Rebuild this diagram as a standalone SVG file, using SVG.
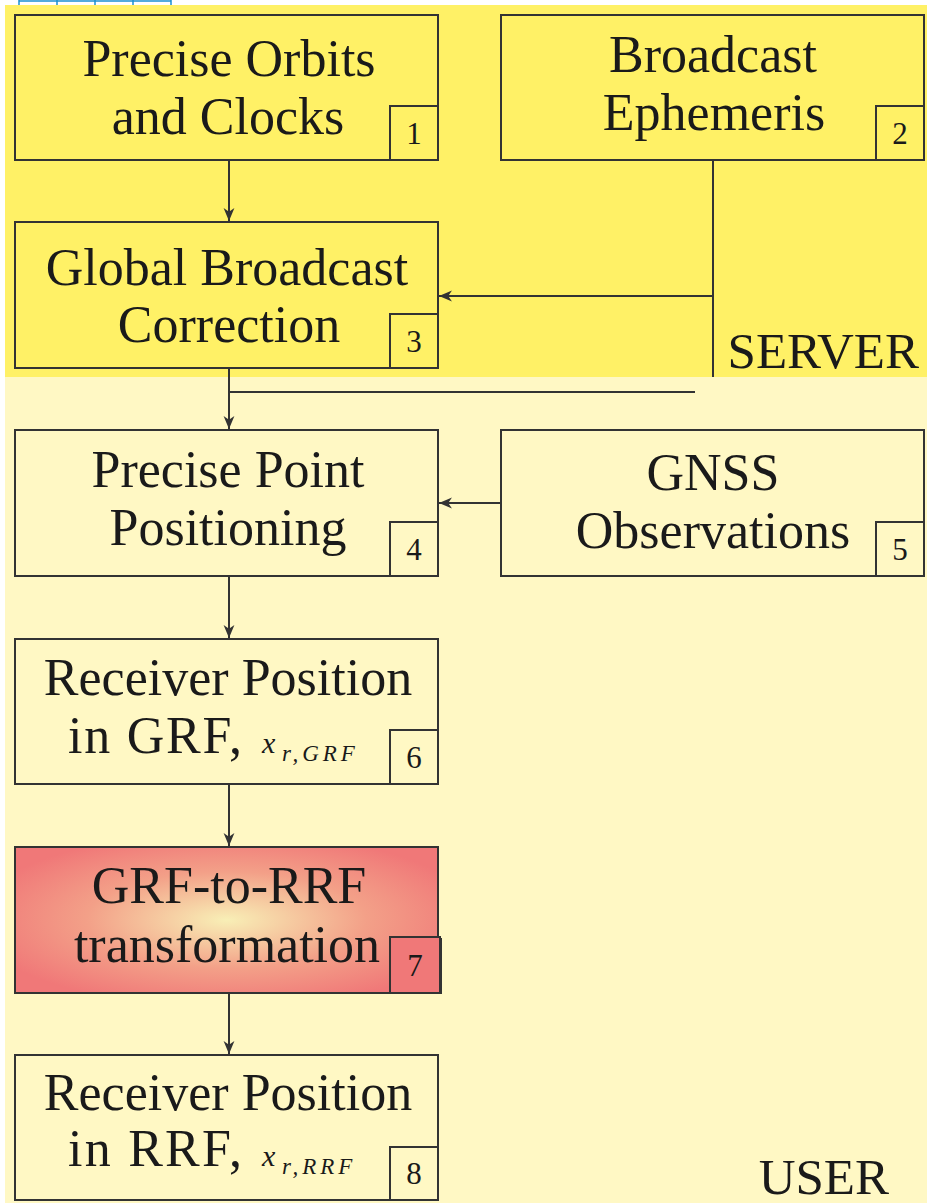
<svg xmlns="http://www.w3.org/2000/svg" width="927" height="1203" viewBox="0 0 927 1203">
  <style>
    .box { stroke: #333; stroke-width: 2; }
    .srv { fill: #fff166; }
    .usr { fill: #fff8c4; }
    .num { fill: none; stroke: #333; stroke-width: 2; }
    .lbl { font-family: "Liberation Serif", "DejaVu Serif", serif; font-size: 52px; fill: #1a1a1a; text-anchor: middle; }
    .lbl-l { font-family: "Liberation Serif", "DejaVu Serif", serif; font-size: 52px; fill: #1a1a1a; text-anchor: start; }
    .mx { font-family: "Liberation Serif", "DejaVu Serif", serif; font-size: 30px; font-style: italic; fill: #1a1a1a; }
    .ms { font-family: "Liberation Serif", "DejaVu Serif", serif; font-size: 23px; font-style: italic; letter-spacing: 4px; fill: #1a1a1a; }
    .n { font-family: "Liberation Serif", "DejaVu Serif", serif; font-size: 31px; fill: #1a1a1a; text-anchor: middle; }
    .zone { font-family: "Liberation Serif", "DejaVu Serif", serif; font-size: 51px; fill: #1a1a1a; text-anchor: end; }
    .conn { stroke: #333; stroke-width: 2; fill: none; }
  </style>
  <defs>
    <marker id="arrow" viewBox="0 0 12 12" refX="12" refY="6" markerWidth="13" markerHeight="13" orient="auto" markerUnits="userSpaceOnUse">
      <path d="M0,1 L12,6 L0,11 L3.5,6 Z" fill="#333"/>
    </marker>
    <radialGradient id="hot" cx="0.5" cy="0.5" r="0.6">
      <stop offset="0" stop-color="#f8efb6"/>
      <stop offset="0.55" stop-color="#f3a088"/>
      <stop offset="1" stop-color="#f07878"/>
    </radialGradient>
  </defs>

  <!-- page background and zones -->
  <rect x="0" y="0" width="927" height="1203" fill="#ffffff"/>
  <g id="link-border" stroke="#1a8fd0" stroke-width="1.5">
    <line x1="19" y1="1" x2="171" y2="1"/>
    <line x1="19" y1="0" x2="19" y2="5"/>
    <line x1="57" y1="0" x2="57" y2="5"/>
    <line x1="95" y1="0" x2="95" y2="5"/>
    <line x1="133" y1="0" x2="133" y2="5"/>
    <line x1="171" y1="0" x2="171" y2="5"/>
  </g>
  <rect id="zone-server" x="5" y="5" width="922" height="372" fill="#fff166"/>
  <rect id="zone-user" x="5" y="377" width="922" height="826" fill="#fff8c4"/>
  <text class="zone" x="919" y="368">SERVER</text>
  <text class="zone" x="889" y="1194">USER</text>

  <!-- connectors -->
  <g id="connectors">
    <line class="conn" x1="229" y1="160" x2="229" y2="221" marker-end="url(#arrow)"/>
    <line class="conn" x1="713" y1="160" x2="713" y2="377"/>
    <line class="conn" x1="713" y1="296" x2="439" y2="296" marker-end="url(#arrow)"/>
    <line class="conn" x1="229" y1="368" x2="229" y2="429" marker-end="url(#arrow)"/>
    <line class="conn" x1="229" y1="392" x2="695" y2="392"/>
    <line class="conn" x1="501" y1="503" x2="439" y2="503" marker-end="url(#arrow)"/>
    <line class="conn" x1="229" y1="576" x2="229" y2="638" marker-end="url(#arrow)"/>
    <line class="conn" x1="229" y1="784" x2="229" y2="846" marker-end="url(#arrow)"/>
    <line class="conn" x1="229" y1="993" x2="229" y2="1054" marker-end="url(#arrow)"/>
  </g>

  <g id="node1">
    <rect class="box srv" x="15" y="15" width="423" height="145"/>
    <rect class="num" x="390" y="106" width="48" height="54"/>
    <text class="lbl" x="229" y="76">Precise Orbits</text>
    <text class="lbl" x="228" y="134">and Clocks</text>
    <text class="n" x="414" y="144">1</text>
  </g>

  <g id="node2">
    <rect class="box srv" x="501" y="15" width="423" height="145"/>
    <rect class="num" x="876" y="106" width="48" height="54"/>
    <text class="lbl" x="713" y="72">Broadcast</text>
    <text class="lbl" x="714" y="130">Ephemeris</text>
    <text class="n" x="900" y="144">2</text>
  </g>

  <g id="node3">
    <rect class="box srv" x="15" y="222" width="423" height="146"/>
    <rect class="num" x="390" y="314" width="48" height="54"/>
    <text class="lbl" x="227" y="285">Global Broadcast</text>
    <text class="lbl" x="229" y="342">Correction</text>
    <text class="n" x="414" y="352">3</text>
  </g>

  <g id="node4">
    <rect class="box usr" x="15" y="430" width="423" height="146"/>
    <rect class="num" x="390" y="522" width="48" height="54"/>
    <text class="lbl" x="228" y="487">Precise Point</text>
    <text class="lbl" x="228" y="545">Positioning</text>
    <text class="n" x="414" y="560">4</text>
  </g>

  <g id="node5">
    <rect class="box usr" x="501" y="430" width="423" height="146"/>
    <rect class="num" x="876" y="522" width="48" height="54"/>
    <text class="lbl" x="713" y="490">GNSS</text>
    <text class="lbl" x="713" y="548">Observations</text>
    <text class="n" x="900" y="560">5</text>
  </g>

  <g id="node6">
    <rect class="box usr" x="15" y="639" width="423" height="145"/>
    <rect class="num" x="390" y="730" width="48" height="54"/>
    <text class="lbl" x="228" y="695">Receiver Position</text>
    <text class="lbl-l" x="68" y="753" textLength="174" lengthAdjust="spacing">in GRF,</text>
    <text class="mx" x="262" y="753">x</text>
    <text class="ms" x="282" y="761">r,GRF</text>
    <text class="n" x="414" y="768">6</text>
  </g>

  <g id="node7">
    <rect class="box" x="15" y="847" width="423" height="146" fill="url(#hot)"/>
    <rect x="390" y="937" width="50" height="56" fill="#f07878" stroke="#333" stroke-width="2"/>
    <line x1="441" y1="938" x2="441" y2="994" stroke="#333" stroke-width="2"/>
    <text class="lbl" x="229" y="903">GRF-to-RRF</text>
    <text class="lbl" x="227" y="962">transformation</text>
    <text class="n" x="415" y="976">7</text>
  </g>

  <g id="node8">
    <rect class="box usr" x="15" y="1055" width="423" height="145"/>
    <rect class="num" x="390" y="1147" width="48" height="53"/>
    <text class="lbl" x="228" y="1110">Receiver Position</text>
    <text class="lbl-l" x="68" y="1166" textLength="174" lengthAdjust="spacing">in RRF,</text>
    <text class="mx" x="262" y="1166">x</text>
    <text class="ms" x="282" y="1174">r,RRF</text>
    <text class="n" x="414" y="1184">8</text>
  </g>
</svg>
